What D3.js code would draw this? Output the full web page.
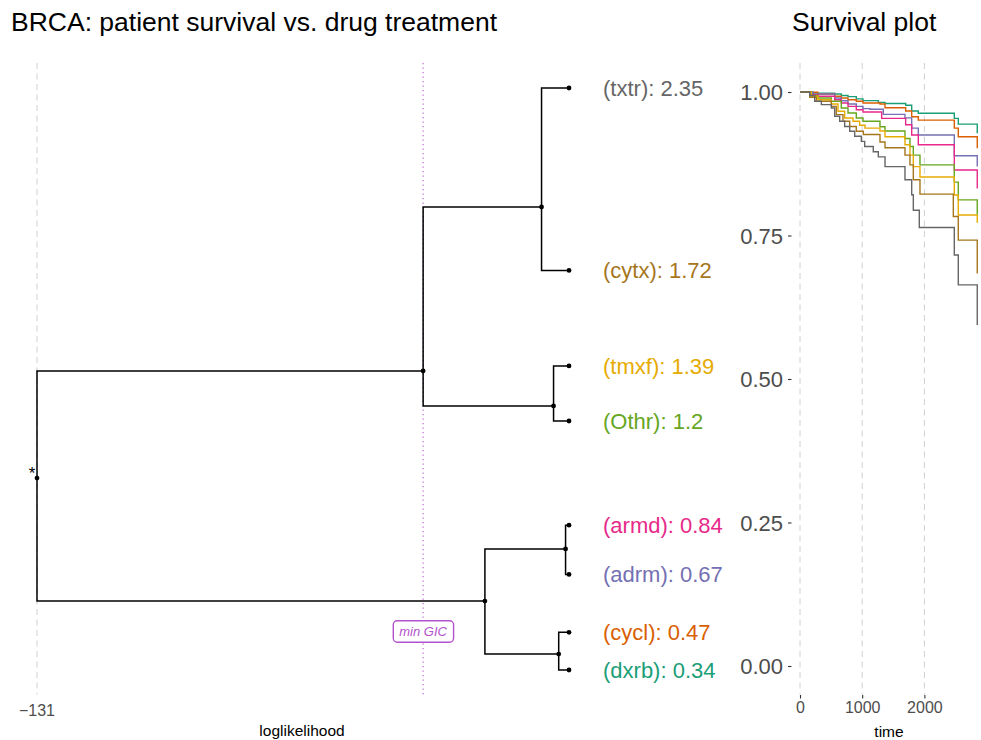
<!DOCTYPE html>
<html><head><meta charset="utf-8">
<script src="https://cdn.jsdelivr.net/npm/d3@7"></script>
<style>
body{margin:0;background:#fff}
text{font-family:"Liberation Sans",Arial,Helvetica,sans-serif}
</style>
</head><body>
<svg id="chart" width="981" height="740"></svg>
<script>
// ---------------- DATA ----------------
const groups      = ["dxrb","cycl","adrm","armd","Othr","tmxf","cytx","txtr"];
const groupValues = [0.34, 0.47, 0.67, 0.84, 1.2, 1.39, 1.72, 2.35];
const groupColors = ["#1B9E77","#D95F02","#7570B3","#E7298A","#66A61E","#E6AB02","#A6761D","#666666"];

// tree: internal nodes
const nodeIds      = ["root","A","B","A1","A2","B1","B2"];
const nodeParents  = [null,"root","root","A","A","B","B"];
const nodeLogLik   = [-131, -108.5, -104.9, -101.6, -100.9, -100.2, -100.6];
const nodeEstimate = [1.003, 1.373, 0.578, 1.939, 1.252, 0.758, 0.395];
// leaves (same order as groups)
const leafParents  = ["B2","B2","B1","B1","A2","A2","A1","A1"];
const leafLogLik   = -100;
const minGICLogLik = -108.5;
const llTicks      = [-131];

// survival curves: [time, survival] after each step
const survDxrb = [[0,1],[190,0.998],[558,0.9965],[664,0.994],[772,0.992],[905,0.988],[1013,0.985],[1259,0.982],[1367,0.980],[1699,0.977],[1796,0.967],[1902,0.963],[2481,0.954],[2545,0.944],[2850,0.928]];
const survCycl = [[0,1],[156,0.9995],[289,0.9965],[558,0.9925],[664,0.9895],[772,0.9866],[905,0.9838],[1013,0.9808],[1286,0.979],[1367,0.9726],[1699,0.967],[1796,0.957],[1902,0.951],[2481,0.937],[2545,0.922],[2850,0.902]];
const survAdrm = [[0,1],[209,0.9965],[558,0.9895],[664,0.9848],[772,0.979],[905,0.975],[1013,0.971],[1125,0.970],[1339,0.961],[1688,0.955],[1796,0.937],[1902,0.925],[2481,0.889],[2850,0.870]];
const survArmd = [[0,1],[156,0.9953],[289,0.9925],[558,0.9866],[664,0.9808],[772,0.975],[905,0.9692],[1013,0.9652],[1313,0.954],[1699,0.943],[1796,0.925],[1902,0.908],[2481,0.864],[2850,0.832]];
const survOthr = [[0,1],[182,0.994],[289,0.9895],[504,0.9838],[664,0.9721],[772,0.9634],[905,0.9547],[1013,0.949],[1286,0.9395],[1367,0.932],[1688,0.919],[1768,0.905],[1822,0.890],[1929,0.873],[2481,0.843],[2545,0.812],[2850,0.786]];
const survTmxf = [[0,1],[182,0.9925],[289,0.9866],[504,0.979],[611,0.9664],[718,0.9547],[852,0.949],[959,0.942],[1045,0.937],[1286,0.932],[1367,0.922],[1688,0.908],[1768,0.890],[1822,0.870],[1929,0.852],[2481,0.8206],[2545,0.7857],[2850,0.772]];
const survCytx = [[0,1],[156,0.9908],[262,0.9838],[504,0.975],[584,0.9605],[691,0.949],[799,0.940],[905,0.9315],[1018,0.926],[1286,0.913],[1367,0.903],[1688,0.890],[1768,0.873],[1822,0.847],[1929,0.822],[2465,0.783],[2545,0.742],[2850,0.684]];
const survTxtr = [[0,1],[156,0.994],[236,0.9838],[343,0.978],[504,0.972],[558,0.9577],[638,0.949],[718,0.940],[799,0.9315],[879,0.923],[986,0.914],[1040,0.905],[1178,0.896],[1259,0.887],[1367,0.870],[1688,0.847],[1796,0.821],[1822,0.794],[1918,0.764],[2481,0.716],[2545,0.664],[2850,0.594]];
const survCurves = [survDxrb, survCycl, survAdrm, survArmd, survOthr, survTmxf, survCytx, survTxtr];

const survYTicks = [0, 0.25, 0.5, 0.75, 1];
const survXTicks = [0, 1000, 2000];
const survTMax = 2862;

// ---------------- LAYOUT ----------------
const svg = d3.select("#chart");
const FONT = '"Liberation Sans",Arial,Helvetica,sans-serif';
const panelTop = 63, panelBottom = 694.5;

// ---- titles
svg.append("text").attr("x", 11).attr("y", 31).attr("font-size", 26.5).attr("fill", "#000")
  .text("BRCA: patient survival vs. drug treatment");
svg.append("text").attr("x", 792).attr("y", 31).attr("font-size", 26.5).attr("fill", "#000")
  .text("Survival plot");

// ---------------- TREE ----------------
const tx = d3.scaleLinear().domain([-131, leafLogLik]).range([37, 569]);
const ty = d3.scaleLinear().domain([d3.min(groupValues), d3.max(groupValues)]).range([670, 88]);

// gridline at ticks
const gTree = svg.append("g");
gTree.selectAll("line.grid").data(llTicks).join("line")
  .attr("x1", d => tx(d)).attr("x2", d => tx(d))
  .attr("y1", panelTop).attr("y2", panelBottom)
  .attr("stroke", "#d0d0d0").attr("stroke-width", 1).attr("stroke-dasharray", "6,4.5");

// min GIC line
gTree.append("line")
  .attr("x1", tx(minGICLogLik)).attr("x2", tx(minGICLogLik))
  .attr("y1", panelTop).attr("y2", panelBottom)
  .attr("stroke", "#B452CD").attr("stroke-opacity", 0.8).attr("stroke-width", 1.3)
  .attr("stroke-dasharray", "1.3,3.2");

// build node map
const nodes = {};
nodeIds.forEach((id, i) => nodes[id] = {id, parent: nodeParents[i], x: tx(nodeLogLik[i]), y: ty(nodeEstimate[i])});
const leaves = groups.map((g, i) => ({id: g, parent: leafParents[i], x: tx(leafLogLik), y: ty(groupValues[i]), color: groupColors[i], value: groupValues[i]}));
const all = Object.values(nodes).concat(leaves);
const edges = all.filter(n => n.parent);

gTree.selectAll("path.edge").data(edges).join("path")
  .attr("d", d => { const p = nodes[d.parent]; return `M${p.x},${p.y}V${d.y}H${d.x}`; })
  .attr("fill", "none").attr("stroke", "#000").attr("stroke-width", 1.5);

gTree.selectAll("circle.node").data(all).join("circle")
  .attr("cx", d => d.x).attr("cy", d => d.y).attr("r", 2.4).attr("fill", "#000");

// root asterisk
gTree.append("text").attr("x", nodes.root.x - 5).attr("y", nodes.root.y + 1)
  .attr("text-anchor", "middle").attr("font-size", 17).text("*");

// leaf labels
gTree.selectAll("text.leaf").data(leaves).join("text")
  .attr("x", d => d.x + 34).attr("y", d => d.y + 8)
  .attr("font-size", 22).attr("fill", d => d.color)
  .text(d => `(${d.id}): ${d.value}`);

// min GIC label
const gicG = gTree.append("g");
const gicText = gicG.append("text").attr("x", tx(minGICLogLik)).attr("y", 636)
  .attr("text-anchor", "middle").attr("font-size", 13).attr("font-style", "italic")
  .attr("fill", "#B452CD").text("min GIC");
const bb = gicText.node().getBBox();
gicG.insert("rect", "text").attr("x", bb.x - 6).attr("y", 620.7).attr("width", bb.width + 12).attr("height", 21.5)
  .attr("rx", 4).attr("fill", "#fff").attr("stroke", "#B452CD").attr("stroke-width", 1.4);

// tree axis
gTree.selectAll("text.llt").data(llTicks).join("text")
  .attr("x", d => tx(d)).attr("y", 716).attr("text-anchor", "middle")
  .attr("font-size", 16).attr("fill", "#4d4d4d").text(d => d3.format("")(d).replace("-", "\u2212"));
gTree.append("text").attr("x", 302).attr("y", 736).attr("text-anchor", "middle")
  .attr("font-size", 15.5).attr("fill", "#000").text("loglikelihood");

// ---------------- SURVIVAL ----------------
const sx = d3.scaleLinear().domain([0, survTMax]).range([800, 978]);
const sy = d3.scaleLinear().domain([0, 1]).range([666, 92]);
const gS = svg.append("g");

gS.selectAll("line.vgrid").data(survXTicks).join("line")
  .attr("x1", d => sx(d)).attr("x2", d => sx(d))
  .attr("y1", panelTop).attr("y2", panelBottom)
  .attr("stroke", "#d0d0d0").attr("stroke-width", 1).attr("stroke-dasharray", "6,4.5");

const yAxis = d3.axisLeft(sy).tickValues(survYTicks).tickFormat(d3.format(".2f")).tickSize(3.5).tickPadding(5);
const yg = gS.append("g").attr("transform", "translate(791.5,0)").call(yAxis);
yg.select(".domain").remove();
yg.selectAll("line").attr("stroke", "#333").attr("stroke-width", 1.1);
yg.selectAll("text").attr("font-size", 22).attr("fill", "#4d4d4d").attr("font-family", FONT).attr("dy", "0.36em");

const xAxis = d3.axisBottom(sx).tickValues(survXTicks).tickFormat(d3.format("d")).tickSize(3.5).tickPadding(3);
const xg = gS.append("g").attr("transform", `translate(0,${panelBottom + 0.5})`).call(xAxis);
xg.select(".domain").remove();
xg.selectAll("line").attr("stroke", "#333").attr("stroke-width", 1.1);
xg.selectAll("text").attr("font-size", 16).attr("fill", "#4d4d4d").attr("font-family", FONT);

gS.append("text").attr("x", 889).attr("y", 737).attr("text-anchor", "middle")
  .attr("font-size", 15.5).attr("fill", "#000").text("time");

const line = d3.line().x(d => sx(d[0])).y(d => sy(d[1])).curve(d3.curveStepAfter);
gS.selectAll("path.surv").data(survCurves).join("path")
  .attr("d", d => line(d)).attr("fill", "none")
  .attr("stroke", (d, i) => groupColors[i]).attr("stroke-width", 1.4);
</script>
</body></html>
